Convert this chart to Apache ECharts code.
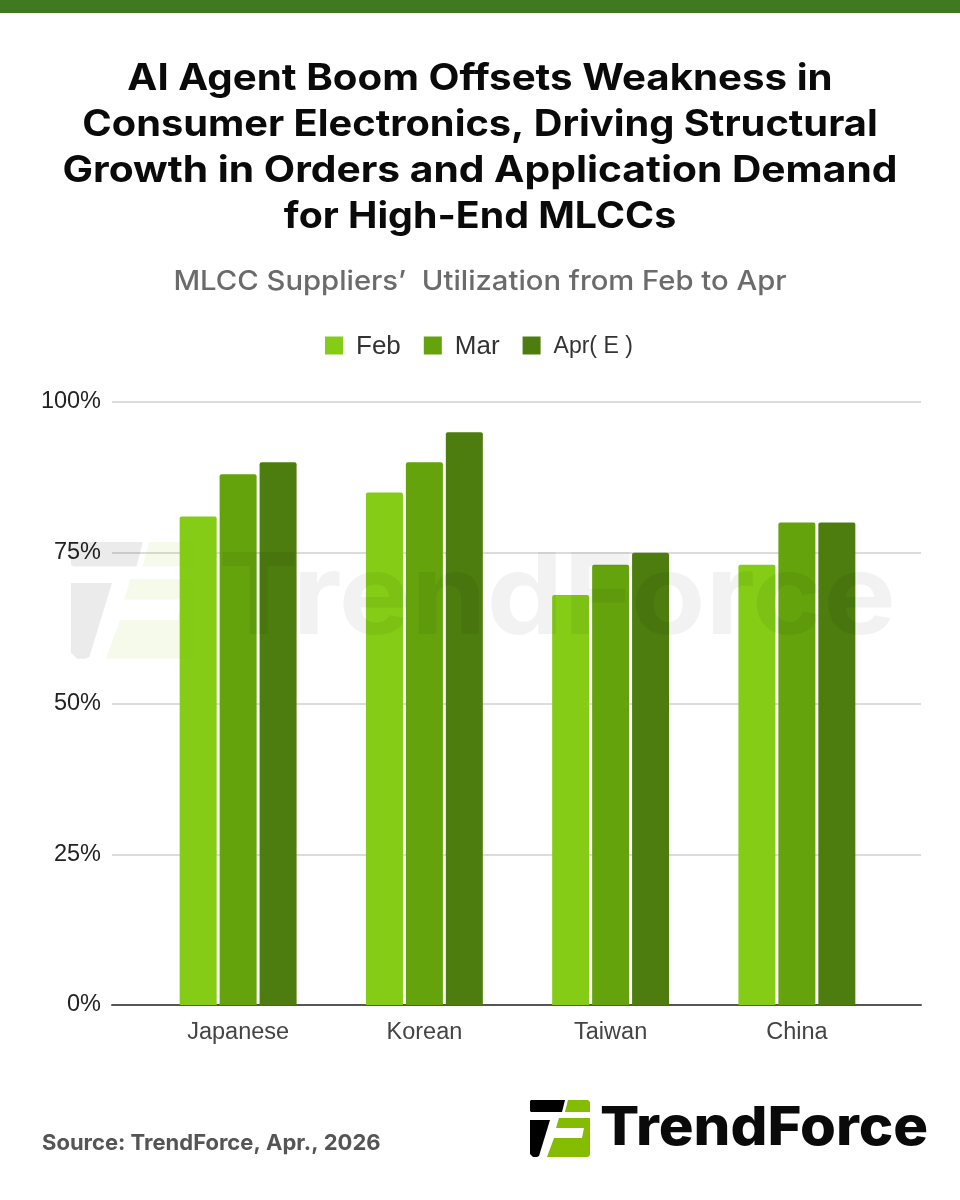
<!DOCTYPE html>
<html><head><meta charset="utf-8">
<style>html,body{margin:0;padding:0;background:#fff}#c{width:960px;height:1200px}</style>
<script src="https://cdn.jsdelivr.net/npm/echarts@6/dist/echarts.min.js"></script>
</head><body><div id="c"></div>
<script>
const categories = ['Japanese','Korean','Taiwan','China'];
const feb = [81,85,68,73];
const mar = [88,90,73,80];
const apr = [90,95,75,80];
const seriesNames = ['Feb','Mar','Apr( E )'];
const colors = ['#84cc16','#65a30d','#4d7c0f'];
const titleLines = ['AI Agent Boom Offsets Weakness in','Consumer Electronics, Driving Structural','Growth in Orders and Application Demand','for High-End MLCCs'];
const titleStretch = [1.103,1.09,1.116,1.077];
const subtitle = 'MLCC Suppliers\u2019  Utilization from Feb to Apr';
const source = 'Source: TrendForce, Apr., 2026';
const brandFont = 'Inter, "Open Sans", sans-serif';
const chart = echarts.init(document.getElementById('c'), null, {renderer:'canvas'});
function logo(x,y,s,op,z){
  const P=(pts,fill)=>({type:'polygon',z:z,silent:true,style:{fill:fill,opacity:op},
    shape:{points:pts.map(p=>[x+p[0]*s,y+p[1]*s])}});
  return [
    P([[1,0],[35,0],[32,12],[1,12],[0,11],[0,1]],'#000'),
    P([[0,20],[20,20],[9,56],[7,57],[3,57],[0,54]],'#000'),
    P([[38,0],[58,0],[60,2],[60,12],[35,12]],'#84bd00'),
    P([[29,18],[60,18],[60,55],[58,57],[17,57],[24,38],[52,38],[54,28],[26,28]],'#84bd00')
  ];
}
const bar=(name,data)=>({type:'bar',name,data,xAxisIndex:1,yAxisIndex:1,barWidth:37,barGap:'8%',
  itemStyle:{borderRadius:[2,2,0,0]}});
chart.setOption({
  animation:false,
  color:colors,
  grid:[{left:112,right:39,top:402,height:603},{left:145,right:70,top:402,height:603}],
  legend:{top:329,left:320,itemWidth:18,itemHeight:18,itemGap:23,icon:'rect',
    data:seriesNames,
    formatter:n=>n==='Apr( E )'?'{s|'+n+'}':'{b|'+n+'}',
    textStyle:{rich:{b:{fontFamily:'Liberation Sans',fontSize:26,color:'#333',padding:[3,0,0,8]},
                     s:{fontFamily:'Liberation Sans',fontSize:23,color:'#333',padding:[3,0,0,8]}}}},
  xAxis:[
    {gridIndex:0,type:'category',data:[],axisTick:{show:false},axisLabel:{show:false},axisLine:{lineStyle:{color:'#555',width:2}}},
    {gridIndex:1,type:'category',data:categories,axisTick:{show:false},axisLine:{show:false},
      axisLabel:{margin:16,fontFamily:'Liberation Sans',fontSize:23.5,color:'#444'}}
  ],
  yAxis:[
    {gridIndex:0,type:'value',min:0,max:100,interval:25,axisLine:{show:false},axisTick:{show:false},
      axisLabel:{formatter:'{value}%',margin:11,padding:[5,0,0,0],fontFamily:'Liberation Sans',fontSize:23.5,color:'#222'},
      splitLine:{lineStyle:{color:'#d0d0d0',width:1.5}}},
    {gridIndex:1,type:'value',min:0,max:100,interval:25,show:false}
  ],
  series:[bar(seriesNames[0],feb),bar(seriesNames[1],mar),bar(seriesNames[2],apr)],
  graphic:[
    {type:'rect',shape:{x:0,y:0,width:960,height:13},style:{fill:'#3f7a1f'}},
    ...titleLines.map((t,i)=>({type:'text',x:480,y:79.5+i*45.8,scaleX:titleStretch[i],silent:true,
      style:{text:t,textAlign:'center',textVerticalAlign:'middle',font:'700 36.5px '+brandFont,fill:'#0a0a0a'}})),
    {type:'text',x:480,y:282,scaleX:1.083,style:{text:subtitle,textAlign:'center',textVerticalAlign:'middle',font:'500 27px '+brandFont,fill:'#6b6b6b'}},
    {type:'text',x:42,y:1143,style:{text:source,textAlign:'left',textVerticalAlign:'middle',font:'700 22px '+brandFont,fill:'#555'}},
    ...logo(530,1100,1,1,20),
    {type:'text',x:600,y:1129,z:20,scaleX:1.075,style:{text:'TrendForce',textAlign:'left',textVerticalAlign:'middle',font:'800 54px '+brandFont,fill:'#0a0a0a'}},
    ...logo(71,542,2.05,0.08,30),
    {type:'text',x:218,y:600,z:30,scaleX:1.075,silent:true,style:{text:'TrendForce',textAlign:'left',textVerticalAlign:'middle',font:'700 113px '+brandFont,fill:'rgba(0,0,0,0.05)'}}
  ]
});
</script></body></html>
